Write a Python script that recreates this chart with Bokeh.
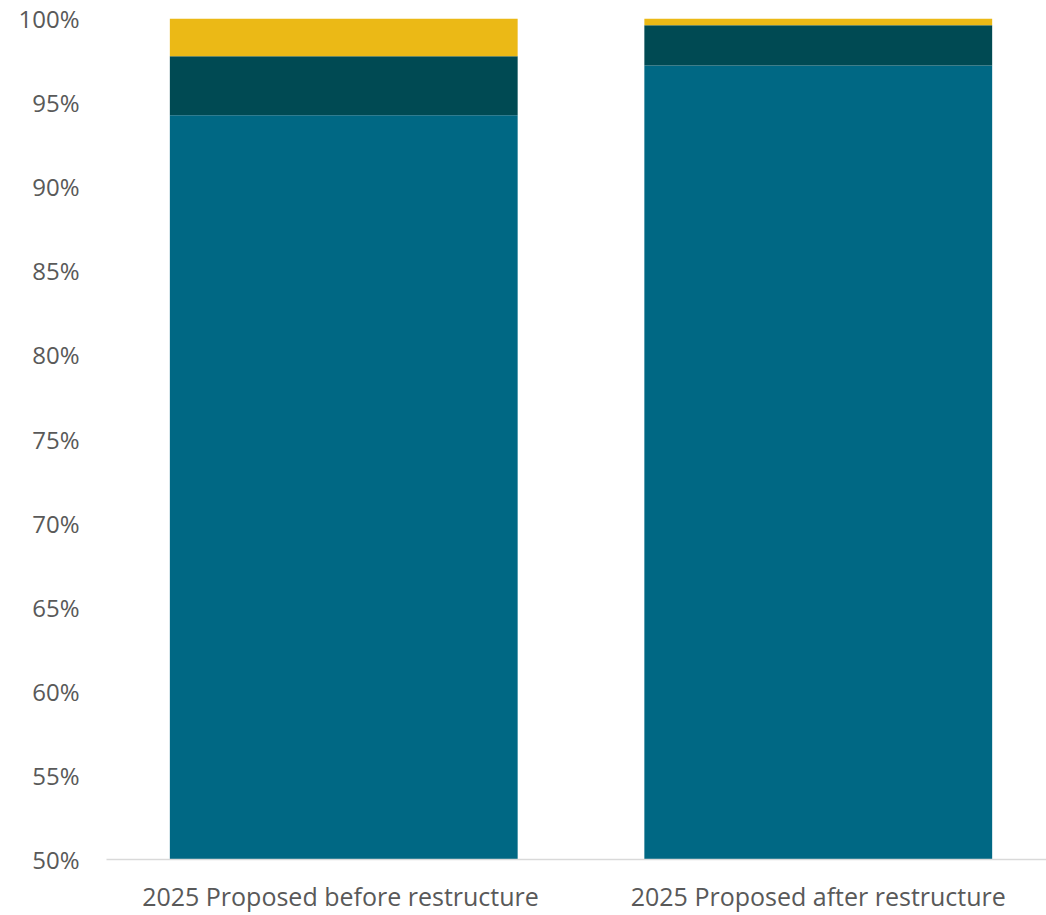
from bokeh.plotting import figure
from bokeh.models import ColumnDataSource, FixedTicker, Range1d
from bokeh.embed import file_html
from bokeh.resources import INLINE

categories = ["2025 Proposed  before restructure", "2025 Proposed after restructure"]
series_a = [94.25, 97.2]   # main teal
series_b = [3.5, 2.4]      # dark teal
series_c = [2.25, 0.4]     # yellow
y_ticks = [50, 55, 60, 65, 70, 75, 80, 85, 90, 95, 100]

x_pos = [i + 0.5 for i in range(len(categories))]
src = ColumnDataSource(dict(x=x_pos, a=series_a, b=series_b, c=series_c))

p = figure(width=1046, height=915, output_backend="svg", toolbar_location=None,
           x_range=Range1d(0, 1.981), y_range=Range1d(50, 100),
           min_border_left=106, min_border_right=0, min_border_top=18, min_border_bottom=53)

p.vbar_stack(["a", "b", "c"], x="x", width=0.733, source=src,
             color=["#006884", "#004A53", "#EBB916"], line_width=0)

p.outline_line_color = None
p.grid.visible = False
p.background_fill_color = "white"

p.yaxis.ticker = FixedTicker(ticks=y_ticks)
p.yaxis.major_label_overrides = {t: f"{t}%" for t in y_ticks}
p.yaxis.axis_line_color = None
p.yaxis.major_tick_line_color = None
p.yaxis.minor_tick_line_color = None
p.yaxis.major_tick_out = 0
p.yaxis.major_label_standoff = 27
p.yaxis.major_label_text_font = "Open Sans"
p.yaxis.major_label_text_font_size = "24px"
p.yaxis.major_label_text_color = "#595959"

p.xaxis.ticker = FixedTicker(ticks=x_pos)
p.xaxis.major_label_overrides = {x: c for x, c in zip(x_pos, categories)}
p.xaxis.axis_line_color = "#D9D9D9"
p.xaxis.axis_line_width = 1.5
p.xaxis.major_tick_line_color = None
p.xaxis.minor_tick_line_color = None
p.xaxis.major_tick_out = 0
p.xaxis.major_label_standoff = 19
p.xaxis.major_label_text_font = "Open Sans"
p.xaxis.major_label_text_font_size = "25px"
p.xaxis.major_label_text_color = "#595959"

open("out.html", "w").write(file_html(p, INLINE))
